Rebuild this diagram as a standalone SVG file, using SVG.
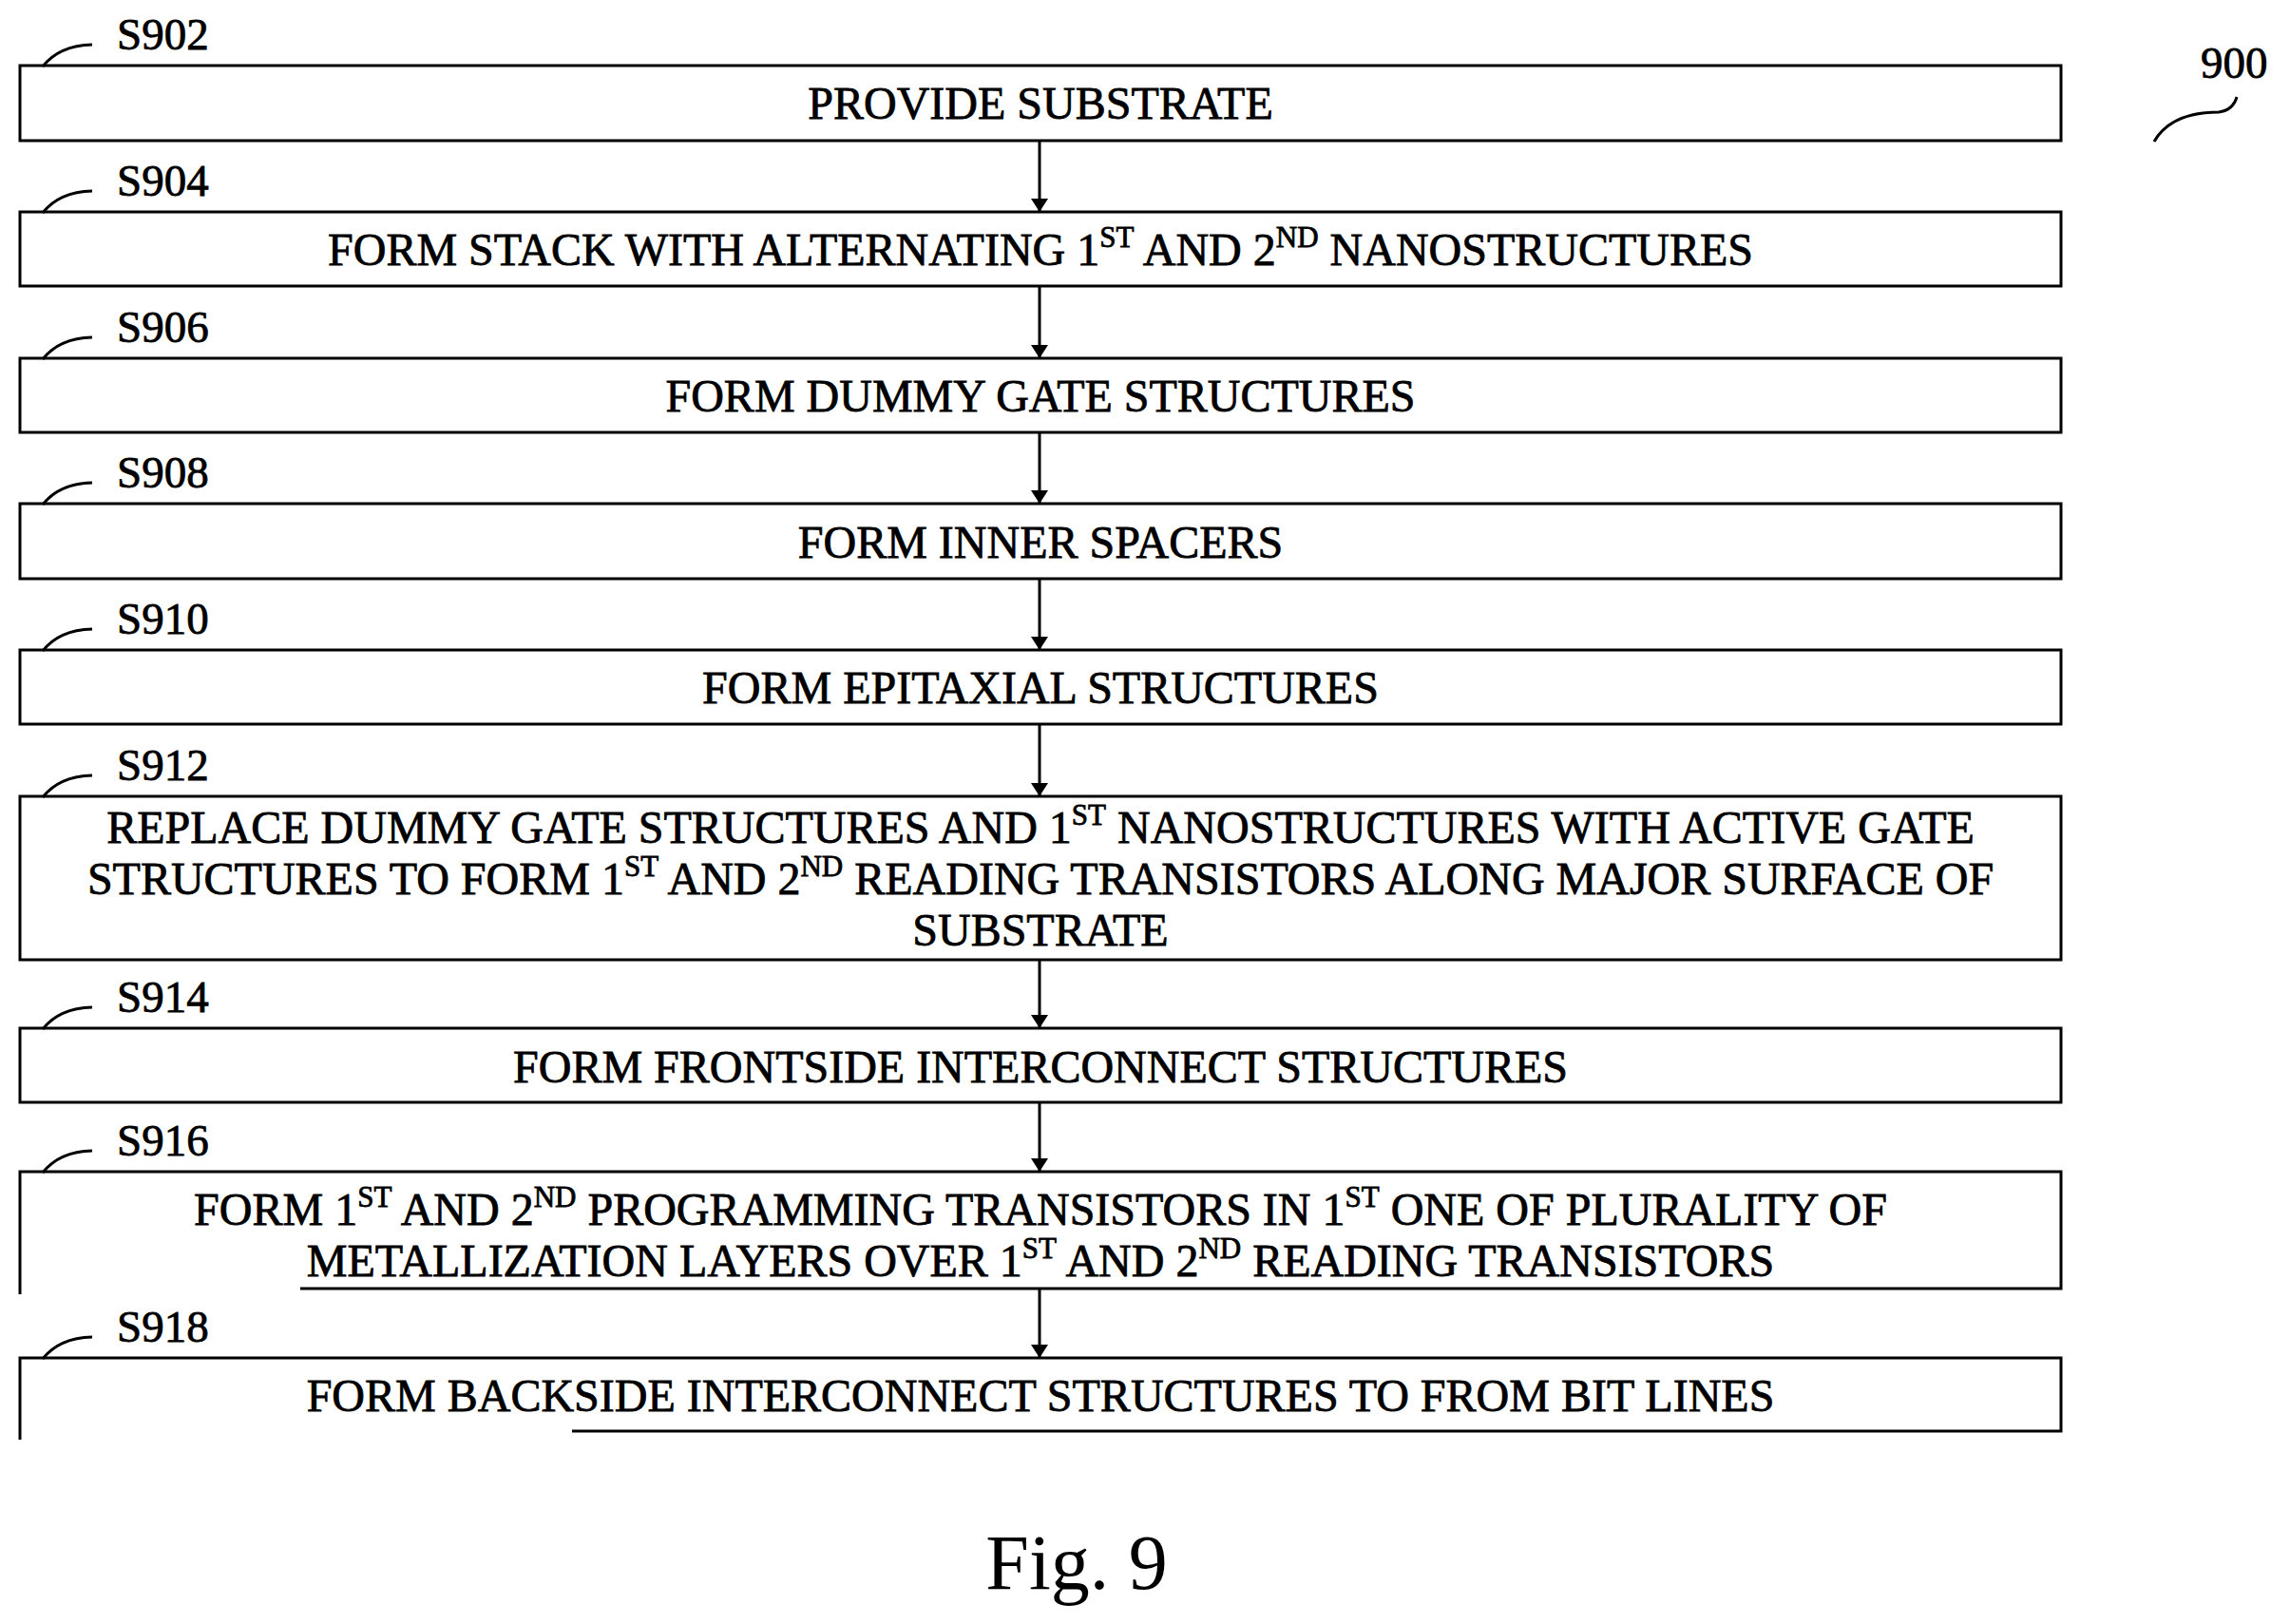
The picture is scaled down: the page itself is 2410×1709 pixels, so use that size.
<svg xmlns="http://www.w3.org/2000/svg" width="2410" height="1709" viewBox="0 0 2410 1709">
<defs>
<marker id="ah" markerWidth="14" markerHeight="18" refX="13" refY="9" orient="auto" markerUnits="userSpaceOnUse"><path d="M0,0 L14,9 L0,18 Z" fill="#000"/></marker>
<style>
.b{fill:none;stroke:#000;stroke-width:3}
.t{font-family:"Liberation Serif",serif;font-size:48px;fill:#000;stroke:#000;stroke-width:0.8;text-anchor:middle}
.l{font-family:"Liberation Serif",serif;font-size:47px;fill:#000;stroke:#000;stroke-width:0.8}
.s{font-size:31px}
.c{fill:none;stroke:#000;stroke-width:3}
</style>
</defs>
<rect width="2410" height="1709" fill="#fff"/>
<g id="n902"><rect class="b" x="21" y="69" width="2148" height="79"/><path class="c" d="M45,70 Q62,48 97,47"/><text class="l" x="123" y="52">S902</text><text class="t" x="1095" y="125">PROVIDE SUBSTRATE</text></g>
<g id="n904"><rect class="b" x="21" y="223" width="2148" height="78"/><path class="c" d="M45,224 Q62,202 97,201"/><text class="l" x="123" y="206">S904</text><text class="t" x="1095" y="279">FORM STACK WITH ALTERNATING 1<tspan class="s" dy="-19">ST</tspan><tspan dy="19"> AND 2</tspan><tspan class="s" dy="-19">ND</tspan><tspan dy="19"> NANOSTRUCTURES</tspan></text></g>
<g id="n906"><rect class="b" x="21" y="377" width="2148" height="78"/><path class="c" d="M45,378 Q62,356 97,355"/><text class="l" x="123" y="360">S906</text><text class="t" x="1095" y="433">FORM DUMMY GATE STRUCTURES</text></g>
<g id="n908"><rect class="b" x="21" y="530" width="2148" height="79"/><path class="c" d="M45,531 Q62,509 97,508"/><text class="l" x="123" y="513">S908</text><text class="t" x="1095" y="587">FORM INNER SPACERS</text></g>
<g id="n910"><rect class="b" x="21" y="684" width="2148" height="78"/><path class="c" d="M45,685 Q62,663 97,662"/><text class="l" x="123" y="667">S910</text><text class="t" x="1095" y="740">FORM EPITAXIAL STRUCTURES</text></g>
<g id="n912"><rect class="b" x="21" y="838" width="2148" height="172"/><path class="c" d="M45,839 Q62,817 97,816"/><text class="l" x="123" y="821">S912</text>
<text class="t" x="1095" y="887">REPLACE DUMMY GATE STRUCTURES AND 1<tspan class="s" dy="-19">ST</tspan><tspan dy="19"> NANOSTRUCTURES WITH ACTIVE GATE</tspan></text>
<text class="t" x="1095" y="941">STRUCTURES TO FORM 1<tspan class="s" dy="-19">ST</tspan><tspan dy="19"> AND 2</tspan><tspan class="s" dy="-19">ND</tspan><tspan dy="19"> READING TRANSISTORS ALONG MAJOR SURFACE OF</tspan></text>
<text class="t" x="1095" y="995">SUBSTRATE</text></g>
<g id="n914"><rect class="b" x="21" y="1082" width="2148" height="78"/><path class="c" d="M45,1083 Q62,1061 97,1060"/><text class="l" x="123" y="1065">S914</text><text class="t" x="1095" y="1139">FORM FRONTSIDE INTERCONNECT STRUCTURES</text></g>
<g id="n916"><path class="b" d="M21,1362 L21,1233 L2169,1233 L2169,1356 L316,1356"/><path class="c" d="M45,1234 Q62,1212 97,1211"/><text class="l" x="123" y="1216">S916</text>
<text class="t" x="1095" y="1289">FORM 1<tspan class="s" dy="-19">ST</tspan><tspan dy="19"> AND 2</tspan><tspan class="s" dy="-19">ND</tspan><tspan dy="19"> PROGRAMMING TRANSISTORS IN 1</tspan><tspan class="s" dy="-19">ST</tspan><tspan dy="19"> ONE OF PLURALITY OF</tspan></text>
<text class="t" x="1095" y="1343">METALLIZATION LAYERS OVER 1<tspan class="s" dy="-19">ST</tspan><tspan dy="19"> AND 2</tspan><tspan class="s" dy="-19">ND</tspan><tspan dy="19"> READING TRANSISTORS</tspan></text></g>
<g id="n918"><path class="b" d="M21,1515 L21,1429 L2169,1429 L2169,1506 L602,1506"/><path class="c" d="M45,1430 Q62,1408 97,1407"/><text class="l" x="123" y="1412">S918</text><text class="t" x="1095" y="1485">FORM BACKSIDE INTERCONNECT STRUCTURES TO FROM BIT LINES</text></g>
<g id="connectors" stroke="#000" stroke-width="3" marker-end="url(#ah)">
<line x1="1094" y1="148" x2="1094" y2="222"/>
<line x1="1094" y1="301" x2="1094" y2="376"/>
<line x1="1094" y1="455" x2="1094" y2="529"/>
<line x1="1094" y1="609" x2="1094" y2="683"/>
<line x1="1094" y1="762" x2="1094" y2="837"/>
<line x1="1094" y1="1010" x2="1094" y2="1081"/>
<line x1="1094" y1="1160" x2="1094" y2="1232"/>
<line x1="1094" y1="1356" x2="1094" y2="1428"/>
</g>
<g id="ref900"><text class="l" x="2316" y="82">900</text><path class="c" d="M2267,149 Q2285,118 2335,118 Q2350,116 2354,102"/></g>
<text x="1133" y="1672" font-family="Liberation Serif,serif" font-size="82" text-anchor="middle">Fig. 9</text>
</svg>
